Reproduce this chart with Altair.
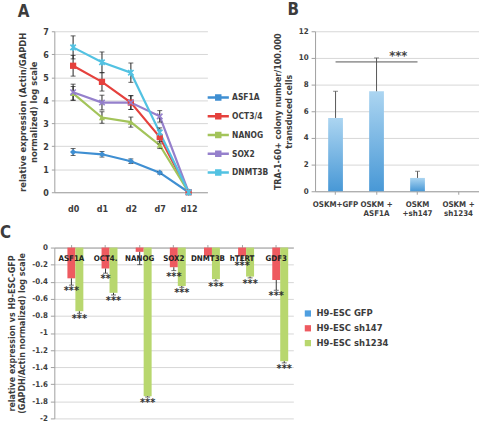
import altair as alt
import pandas as pd

FONT = "Liberation Sans Narrow, DejaVu Sans Condensed, sans-serif"
TXT = "#3c3c3c"

# ---------------- Panel A data ----------------
days = ["d0", "d1", "d2", "d7", "d12"]
genes_a = ["ASF1A", "OCT3/4", "NANOG", "SOX2", "DNMT3B"]
expr_asf1a = [1.75, 1.65, 1.35, 0.85, 0.0]
err_asf1a = [0.15, 0.12, 0.10, 0.06, 0.0]
expr_oct = [5.5, 4.8, 3.9, 2.4, 0.0]
err_oct = [0.45, 0.40, 0.30, 0.30, 0.0]
expr_nanog = [4.3, 3.25, 3.05, 2.05, 0.0]
err_nanog = [0.30, 0.25, 0.22, 0.15, 0.0]
expr_sox2 = [4.35, 3.9, 3.9, 3.3, 0.0]
err_sox2 = [0.35, 0.32, 0.30, 0.25, 0.0]
expr_dnmt = [6.3, 5.65, 5.2, 2.6, 0.0]
err_dnmt = [0.50, 0.45, 0.42, 0.20, 0.0]
colors_a = ["#3f8fd2", "#e5413d", "#a3c45a", "#9580cc", "#52c2e2"]
markers_a = ["diamond", "square", "triangle-up", "M-1,-1L1,1M-1,1L1,-1",
             "M-1,-1L1,1M-1,1L1,-1M0,-1.3L0,1.3"]
filled_a = [True, True, True, False, False]

# ---------------- Panel B data ----------------
conds_b = ["OSKM+GFP", "OSKM +|ASF1A", "OSKM|+sh147", "OSKM +|sh1234"]
colonies_b = [5.5, 7.5, 1.0, 0.0]
err_b = [2.0, 2.5, 0.5, 0.0]
bracket_b = [9.7]
stars_b = ["***"]

# ---------------- Panel C data ----------------
genes_c = ["ASF1A", "OCT4.", "NANOG", "SOX2", "DNMT3B", "hTERT", "GDF3"]
series_c = ["H9-ESC GFP", "H9-ESC sh147", "H9-ESC sh1234"]
val_gfp = [0, 0, 0, 0, 0, 0, 0]
val_sh147 = [-0.36, -0.245, -0.05, -0.23, -0.10, -0.10, -0.38]
err_sh147 = [0.08, 0.055, 0.15, 0.04, 0.0, 0.05, 0.12]
stars_sh147 = ["***", "**", "", "***", "", "***", "***"]
val_sh1234 = [-0.745, -0.53, -1.74, -0.45, -0.37, -0.34, -1.33]
err_sh1234 = [0.025, 0.025, 0.01, 0.015, 0.02, 0.015, 0.02]
stars_sh1234 = ["***", "***", "***", "***", "***", "***", "***"]
colors_c = ["#4f9fe0", "#ee5a60", "#b8d76e"]

# ---------------- tables ----------------
rows = []
for g, v, e in zip(genes_a, [expr_asf1a, expr_oct, expr_nanog, expr_sox2, expr_dnmt],
                   [err_asf1a, err_oct, err_nanog, err_sox2, err_dnmt]):
    for d, vi, ei in zip(days, v, e):
        rows.append({"day": d, "gene": g, "value": vi, "lo": vi - ei, "hi": vi + ei, "err": ei})
df_a = pd.DataFrame(rows)

df_b = pd.DataFrame({"cond": conds_b, "value": colonies_b,
                     "hi": [v + e for v, e in zip(colonies_b, err_b)], "err": err_b})
df_br = pd.DataFrame({"cond": [conds_b[0]], "x2": [conds_b[2]], "value": bracket_b,
                      "mid": [conds_b[1]], "stars": stars_b})

rows = []
for s, vals, errs, st in [(series_c[0], val_gfp, [0] * 7, [""] * 7),
                          (series_c[1], val_sh147, err_sh147, stars_sh147),
                          (series_c[2], val_sh1234, err_sh1234, stars_sh1234)]:
    for g, v, e, t in zip(genes_c, vals, errs, st):
        rows.append({"gene": g, "series": s, "value": v, "err": e, "lo": v - e, "stars": t})
df_c = pd.DataFrame(rows)
df_cg = pd.DataFrame({"gene": genes_c})

axis_common = dict(labelFont=FONT, labelFontWeight="bold", labelColor=TXT, labelFontSize=9,
                   titleFont=FONT, titleFontWeight="bold", titleColor=TXT, titleFontSize=9.5,
                   domainColor="#a0a0a0", tickColor="#a0a0a0", gridColor="#d6d6d6",
                   labelOverlap=False)

# ---------------- Panel A chart ----------------
def xa(field="day"):
    return alt.X(f"{field}:N", sort=days, scale=alt.Scale(type="point", padding=0.65, domain=days),
                 axis=alt.Axis(title=None, ticks=False, labelPadding=12, labelAngle=0, grid=False,
                               **axis_common))

def ya(field):
    return alt.Y(f"{field}:Q", scale=alt.Scale(domain=[0, 7]),
                 axis=alt.Axis(title=["relative expression (Actin/GAPDH", "normalized) log scale"],
                               values=list(range(8)), tickSize=3, labelPadding=3, titlePadding=4,
                               **axis_common))

col_a = alt.Scale(domain=genes_a, range=colors_a)
base_a = alt.Chart(df_a)
lines_a = base_a.mark_line(strokeWidth=2.2).encode(
    x=xa(), y=ya("value"),
    color=alt.Color("gene:N", scale=col_a, sort=genes_a,
                    legend=alt.Legend(orient="none", legendX=158, legendY=59, title=None,
                                      symbolType="M-1.6,0L1.6,0M-0.3,-0.3L0.3,-0.3L0.3,0.3L-0.3,0.3Z",
                                      symbolStrokeWidth=2.5, symbolSize=180,
                                      labelFont=FONT, labelFontWeight="bold", labelColor=TXT,
                                      labelFontSize=8.5, rowPadding=3, labelOffset=6)))
errf = base_a.transform_filter("datum.err > 0")
err_a = errf.mark_rule(color="#222", strokeWidth=1).encode(x=xa(), y=ya("lo"), y2="hi:Q")
cap_lo = errf.mark_tick(color="#222", size=5, thickness=1).encode(x=xa(), y=ya("lo"))
cap_hi = errf.mark_tick(color="#222", size=5, thickness=1).encode(x=xa(), y=ya("hi"))
pt_layers = []
for g, shp, fl in zip(genes_a, markers_a, filled_a):
    pt_layers.append(
        base_a.transform_filter(alt.datum.gene == g).mark_point(
            shape=shp, filled=fl, size=40 if fl else 30, opacity=1, strokeWidth=1.6).encode(
            x=xa(), y=ya("value"), color=alt.Color("gene:N", scale=col_a, legend=None)))
chart_a = alt.layer(lines_a, err_a, cap_lo, cap_hi, *pt_layers).properties(
    width=155, height=163,
    title=alt.TitleParams("A", anchor="start", frame="group", fontSize=17, fontWeight="bold",
                          font=FONT, color=TXT, dx=-37, offset=6))

# ---------------- Panel B chart ----------------
grad_b = alt.Gradient(gradient="linear", x1=0, x2=0, y1=0, y2=1,
                      stops=[alt.GradientStop(color="#acd5f1", offset=0),
                             alt.GradientStop(color="#4898d6", offset=1)])

def xb(field="cond"):
    return alt.X(f"{field}:N", sort=conds_b,
                 scale=alt.Scale(domain=conds_b, paddingInner=0.64, paddingOuter=0.32),
                 axis=alt.Axis(title=None, labelAngle=0, labelExpr="split(datum.label, '|')",
                               labelPadding=6, tickSize=3, **{**axis_common, "labelFontSize": 8}))

def yb(field):
    return alt.Y(f"{field}:Q", scale=alt.Scale(domain=[0, 12]),
                 axis=alt.Axis(title=["TRA-1-60+ colony number/100.000", "transduced cells"],
                               values=list(range(0, 13, 2)), tickSize=4, labelPadding=3,
                               titlePadding=5,
                               **{**axis_common, "labelFontSize": 8, "titleFontSize": 9}))

base_b = alt.Chart(df_b)
bars_b = base_b.mark_bar(color=grad_b).encode(x=xb(), y=yb("value"))
errbf = base_b.transform_filter("datum.err > 0")
err_b_r = errbf.mark_rule(color="#555", strokeWidth=1).encode(x=xb(), y=yb("value"), y2="hi:Q")
cap_b = errbf.mark_tick(color="#555", size=5, thickness=1).encode(x=xb(), y=yb("hi"))
br_line = alt.Chart(df_br).mark_rule(color="#555", strokeWidth=1).encode(
    x=xb(), x2="x2:N", y=yb("value"))
br_txt = alt.Chart(df_br).mark_text(font=FONT, fontWeight="bold", fontSize=13, color="#444",
                                    dx=22, dy=-6).encode(
    x=xb("mid"), y=yb("value"), text="stars:N")
chart_b = alt.layer(bars_b, err_b_r, cap_b, br_line, br_txt).properties(
    width=166, height=162,
    title=alt.TitleParams("B", anchor="start", frame="group", fontSize=17, fontWeight="bold",
                          font=FONT, color=TXT, dx=-28, offset=8))

# ---------------- Panel C chart ----------------
def xc(field="gene"):
    return alt.X(f"{field}:N", sort=genes_c,
                 scale=alt.Scale(domain=genes_c, paddingInner=0.3, paddingOuter=0.15),
                 axis=alt.Axis(title=None, orient="top", labels=False, tickSize=3, grid=False,
                               **axis_common))

def yc(field):
    return alt.Y(f"{field}:Q", scale=alt.Scale(domain=[-2, 0]),
                 axis=alt.Axis(title=["relative expression vs H9-ESC-GFP", "(GAPDH/Actin normalized) log scale"],
                               values=[-2, -1.8, -1.6, -1.4, -1.2, -1, -0.8, -0.6, -0.4, -0.2, 0],
                               labelExpr="'' + round(datum.value * 10) / 10",
                               tickSize=4, labelPadding=3, titlePadding=5,
                               **{**axis_common, "labelFontSize": 8, "titleFontSize": 9}))

xo = alt.XOffset("series:N", sort=series_c, scale=alt.Scale(domain=series_c))
base_c = alt.Chart(df_c)
bars_c = base_c.mark_bar().encode(
    x=xc(), y=yc("value"), xOffset=xo,
    color=alt.Color("series:N", sort=series_c, scale=alt.Scale(domain=series_c, range=colors_c),
                    legend=alt.Legend(orient="none", legendX=252, legendY=62, title=None,
                                      symbolType="square", symbolSize=40,
                                      labelFont=FONT, labelFontWeight="bold", labelColor=TXT,
                                      labelFontSize=9.5, rowPadding=4)))
errcf = base_c.transform_filter("datum.err > 0")
err_c = errcf.mark_rule(color="#333", strokeWidth=1).encode(
    x=xc(), xOffset=xo, y=yc("value"), y2="lo:Q")
cap_c = errcf.mark_tick(color="#333", size=5, thickness=1).encode(x=xc(), xOffset=xo, y=yc("lo"))
stars_c = base_c.transform_filter("datum.stars != ''").mark_text(
    font=FONT, fontWeight="bold", fontSize=11, color="#333", baseline="top", dy=0).encode(
    x=xc(), xOffset=xo, y=yc("lo"), text="stars:N")
lab_c = alt.Chart(df_cg).mark_text(font=FONT, fontWeight="bold", fontSize=8, color="#222",
                                   baseline="middle").encode(
    x=xc(), y=alt.value(12), text="gene:N")
chart_c = alt.layer(bars_c, err_c, cap_c, stars_c, lab_c).properties(
    width=242, height=173,
    title=alt.TitleParams("C", anchor="start", frame="group", fontSize=17, fontWeight="bold",
                          font=FONT, color=TXT, dx=-55, offset=2))

row1 = alt.hconcat(chart_a, chart_b, spacing=4).resolve_scale(
    color="independent", x="independent", y="independent"
).resolve_legend(color="independent")

chart = alt.concat(row1, chart_c, columns=1, spacing=6, align="none").resolve_scale(
    color="independent", x="independent", y="independent"
).resolve_legend(color="independent").properties(
    padding={"left": 0, "top": -1, "right": 0, "bottom": 0},
    background="white"
).configure_view(stroke=None)

chart.save("out.html", embed_options={"renderer": "svg", "actions": False})
